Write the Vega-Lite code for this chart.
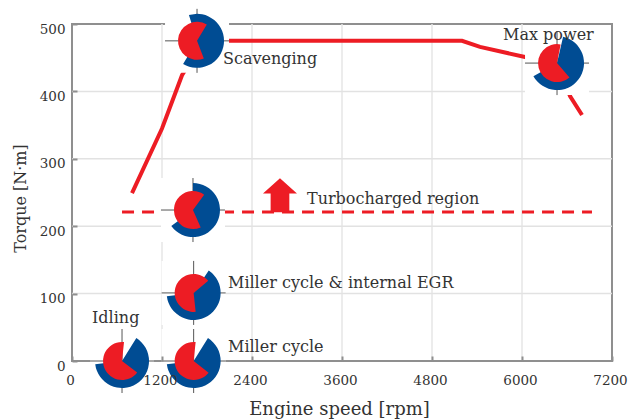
{"$schema":"https://vega.github.io/schema/vega-lite/v6.json","width":540,"height":337,"autosize":"none","padding":{"left":72,"top":24,"right":22,"bottom":58},"background":"white","config":{"view":{"stroke":"#8f8f8f","strokeWidth":2}},
"datasets":{"pies":[
{"name":"Idling","rpm":667,"torque":0,"b0":0.559,"b1":4.59,"r0":2.217,"r1":6.388},
{"name":"Miller","rpm":1622,"torque":0,"b0":0.559,"b1":4.59,"r0":2.234,"r1":6.388},
{"name":"EGR","rpm":1622,"torque":101,"b0":0.593,"b1":4.59,"r0":3.037,"r1":7.156},
{"name":"Turbo","rpm":1613,"torque":224,"b0":0,"b1":4.075,"r0":2.723,"r1":6.912},
{"name":"Scavenging","rpm":1667,"torque":475,"b0":-0.305,"b1":3.683,"r0":2.775,"r1":6.824},
{"name":"Max","rpm":6467,"torque":442,"b0":0.227,"b1":4.206,"r0":2.426,"r1":6.475}]},
"encoding":{"x":{"field":"rpm","type":"quantitative","scale":{"domain":[0,7200],"nice":false},"axis":{"values":[0,1200,2400,3600,4800,6000,7200],"format":"d","grid":false,"domain":false,"tickColor":"#8f8f8f","tickWidth":2,"tickSize":-5,"labelFont":"DejaVu Serif","labelFontSize":13.5,"labelColor":"#333","labelPadding":17,"labelOffset":-2,"zindex":1,"title":"Engine speed [rpm]","titleFont":"DejaVu Serif","titleFontSize":18,"titleFontWeight":"normal","titleColor":"#333","titleX":267,"titleY":53,"titleBaseline":"alphabetic","labelFlush":false},"title":"Engine speed [rpm]"},
"y":{"field":"torque","type":"quantitative","scale":{"domain":[0,500],"nice":false},"axis":{"values":[0,100,200,300,400,500],"format":"d","grid":false,"domain":false,"tickColor":"#8f8f8f","tickWidth":2,"tickSize":-5,"labelFont":"DejaVu Serif","labelFontSize":13.5,"labelColor":"#333","labelPadding":12,"labelOffset":5,"zindex":1,"title":"Torque [N·m]","titleFont":"DejaVu Serif","titleFontSize":16,"titleFontWeight":"normal","titleColor":"#333","titleX":-44,"titleY":174},"title":"Torque [N·m]"}},
"layer":[
{"data":{"values":[{"rpm":1200,"torque":0,"t2":500},{"rpm":2400,"torque":0,"t2":500},{"rpm":3600,"torque":0,"t2":500},{"rpm":4800,"torque":0,"t2":500},{"rpm":6000,"torque":0,"t2":500}]},"mark":{"type":"rule","color":"#e6e6e6","strokeWidth":1.5},"encoding":{"y2":{"field":"t2"}}},
{"data":{"values":[{"rpm":0,"torque":100,"r2":7200},{"rpm":0,"torque":200,"r2":7200},{"rpm":0,"torque":300,"r2":7200},{"rpm":0,"torque":400,"r2":7200}]},"mark":{"type":"rule","color":"#e2e2e2","strokeWidth":1.5},"encoding":{"x2":{"field":"r2"}}},
{"data":{"values":[{"rpm":0,"torque":0,"r2":7200}]},"mark":{"type":"rule","color":"#8f8f8f","strokeWidth":2},"encoding":{"x2":{"field":"r2"}}},
{"data":{"values":[{"rpm":800,"torque":249},{"rpm":1200,"torque":345},{"rpm":1467,"torque":424},{"rpm":1750,"torque":475},{"rpm":5200,"torque":475},{"rpm":5440,"torque":466},{"rpm":6040,"torque":451},{"rpm":6467,"torque":442},{"rpm":6640,"torque":393},{"rpm":6800,"torque":365}]},"mark":{"type":"line","color":"#ed1c24","strokeWidth":4},"encoding":{}},
{"data":{"values":[{"rpm":667,"torque":221},{"rpm":6933,"torque":221}]},"mark":{"type":"line","color":"#ed1c24","strokeWidth":3,"strokeDash":[12,8]},"encoding":{}},
{"data":{"name":"pies"},"mark":{"type":"point","shape":"square","filled":true,"color":"white","opacity":1,"size":4096,"strokeWidth":0},"encoding":{}},
{"data":{"name":"pies"},"mark":{"type":"point","shape":"M-1,0H1M0,-1V1","filled":false,"color":"#555","opacity":1,"size":4096,"strokeWidth":1},"encoding":{}},
{"data":{"name":"pies"},"mark":{"type":"arc","radius":27,"color":"#004c93"},"encoding":{"theta":{"field":"b0","type":"quantitative","scale":null,"stack":null},"theta2":{"field":"b1"}}},
{"data":{"name":"pies"},"mark":{"type":"arc","radius":19,"color":"#ed1c24"},"encoding":{"theta":{"field":"r0","type":"quantitative","scale":null,"stack":null},"theta2":{"field":"r1"}}},
{"data":{"values":[{"rpm":2773,"torque":246}]},"mark":{"type":"point","shape":"M0,-1L1,-0.1H0.55V1H-0.55V-0.1H-1Z","filled":true,"color":"#ed1c24","opacity":1,"size":1156,"strokeWidth":0},"encoding":{}},
{"data":{"values":[{"rpm":2013,"torque":448,"text":"Scavenging"},{"rpm":3133,"torque":240,"text":"Turbocharged region"},{"rpm":2080,"torque":116,"text":"Miller cycle & internal EGR"},{"rpm":2080,"torque":21,"text":"Miller cycle"},{"rpm":267,"torque":64,"text":"Idling"},{"rpm":5747,"torque":484,"text":"Max power"}]},"mark":{"type":"text","align":"left","baseline":"middle","font":"DejaVu Serif","fontSize":16,"color":"#333"},"encoding":{"text":{"field":"text"}}}
]}
